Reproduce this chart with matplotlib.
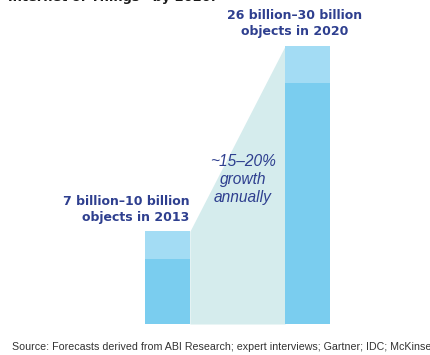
import matplotlib.pyplot as plt

years = ["2013", "2020"]
low = [7, 26]       # billions of connected objects, low estimate
high = [10, 30]     # billions, high estimate
labels = ["7 billion\u201310 billion\nobjects in 2013",
          "26 billion\u201330 billion\nobjects in 2020"]
growth_label = "~15\u201320%\ngrowth\nannually"
title = "Internet of Things\u201d by 2020."
source = ("Source: Forecasts derived from ABI Research; expert interviews; "
          "Gartner; IDC; McKinsey Global Institute")

navy = "#2e3f8f"
bar_dark = "#7acdef"
bar_light = "#a3dcf4"
wedge = "#d5eced"

plt.rcParams["font.family"] = ["Liberation Sans", "DejaVu Sans"]
heavy = ["DejaVu Sans"]

fig = plt.figure(figsize=(4.30, 3.55), dpi=100)
ax = fig.add_axes([0, 31 / 355, 1, 324 / 355])
ax.set_xlim(-1.196, 1.875)
ax.set_ylim(0, 34.96)
ax.axis("off")

x = [0, 1]
w = 0.32
ax.bar(x, low, width=w, color=bar_dark, linewidth=0)
ax.bar(x, [h - l for h, l in zip(high, low)], bottom=low, width=w,
       color=bar_light, linewidth=0)

# growth wedge between the two bars
xl, xr = x[0] + w / 2, x[1] - w / 2
ax.fill_between([xl, xr], [0, 0], [high[0], high[1]], color=wedge,
                linewidth=0, zorder=0)

ax.text(xl - 0.005, 12.35, labels[0], ha="right", va="center",
        color=navy, fontsize=9, fontweight="bold", family=heavy,
        linespacing=1.3)
ax.text(x[1] - 0.09, 32.4, labels[1], ha="center", va="center",
        color=navy, fontsize=9, fontweight="bold", family=heavy,
        linespacing=1.3)
ax.text(0.54, 15.6, growth_label, ha="center", va="center", color=navy,
        fontsize=11.2, fontstyle="italic", linespacing=1.25)

fig.text(8 / 430, 1 + 3 / 355, title, ha="left", va="center",
         fontsize=9.3, fontweight="bold", family=heavy, color="#1a1a1a")
fig.text(12 / 430, 1 - 347 / 355, source, ha="left", va="center",
         fontsize=7.65, color="#333333")

fig.savefig("out.png", dpi=100, facecolor="white")
